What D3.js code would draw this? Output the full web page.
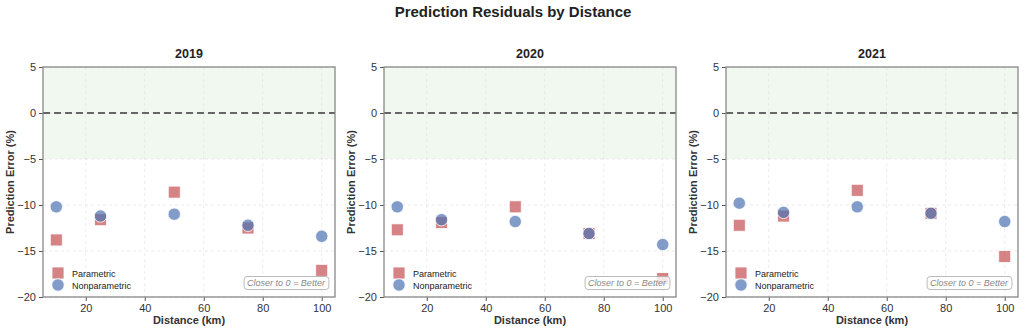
<!DOCTYPE html>
<html>
<head>
<meta charset="utf-8">
<script src="https://cdn.jsdelivr.net/npm/d3@7.9.0/dist/d3.min.js"></script>
<style>
  body { margin: 0; background: #fff; }
  svg { font-family: "Liberation Sans", Arial, sans-serif; }
</style>
</head>
<body>
<svg id="chart" width="1026" height="332"></svg>
<script>
const years = ['2019', '2020', '2021'];
const distances = [10, 25, 50, 75, 100];
const parametric = [
  [-13.8, -11.6, -8.6, -12.5, -17.1],
  [-12.7, -11.9, -10.2, -13.1, -18.0],
  [-12.2, -11.2, -8.4, -10.9, -15.6]
];
const nonparametric = [
  [-10.2, -11.2, -11.0, -12.2, -13.4],
  [-10.2, -11.6, -11.8, -13.1, -14.3],
  [-9.8, -10.8, -10.2, -10.9, -11.8]
];
const yTicks = [5, 0, -5, -10, -15, -20];
const xTicks = [20, 40, 60, 80, 100];

const svg = d3.select('#chart');
const panelLefts = [43, 384, 726];
const panelW = 292;
const plotTop = 67, plotBottom = 297;
const fmt = d => d < 0 ? '\u2212' + Math.abs(d) : String(d);

svg.append('text')
  .attr('x', 513).attr('y', 17)
  .attr('text-anchor', 'middle')
  .attr('font-size', 15).attr('font-weight', 'bold')
  .attr('fill', '#222')
  .text('Prediction Residuals by Distance');

years.forEach((year, i) => {
  let left = panelLefts[i];
  let x = d3.scaleLinear().domain([5.5, 104.5]).range([left, left + panelW]);
  let y = d3.scaleLinear().domain([-20, 5]).range([plotBottom, plotTop]);
  let g = svg.append('g');

  // good zone
  g.append('rect')
    .attr('x', x(5.5)).attr('y', y(5))
    .attr('width', panelW).attr('height', y(-5) - y(5))
    .attr('fill', '#2ca02c').attr('fill-opacity', 0.07);

  // grid
  g.selectAll('.gx').data(xTicks).join('line')
    .attr('x1', d => x(d)).attr('x2', d => x(d))
    .attr('y1', plotTop).attr('y2', plotBottom)
    .attr('stroke', '#ddd').attr('stroke-width', 0.8)
    .attr('stroke-dasharray', '3,3').attr('opacity', 0.7);
  g.selectAll('.gy').data(yTicks).join('line')
    .attr('x1', left).attr('x2', left + panelW)
    .attr('y1', d => y(d)).attr('y2', d => y(d))
    .attr('stroke', '#ddd').attr('stroke-width', 0.8)
    .attr('stroke-dasharray', '3,3').attr('opacity', 0.7);

  // zero line
  g.append('line')
    .attr('x1', left).attr('x2', left + panelW)
    .attr('y1', y(0)).attr('y2', y(0))
    .attr('stroke', '#666').attr('stroke-width', 1.8)
    .attr('stroke-dasharray', '7,4');

  // axes
  let xAxis = g.append('g')
    .attr('transform', `translate(0,${plotBottom})`)
    .call(d3.axisBottom(x).tickValues(xTicks).tickSize(4).tickPadding(3));
  let yAxis = g.append('g')
    .attr('transform', `translate(${left},0)`)
    .call(d3.axisLeft(y).tickValues(yTicks).tickFormat(fmt).tickSize(4).tickPadding(3));
  [xAxis, yAxis].forEach(a => {
    a.select('.domain').remove();
    a.selectAll('.tick line').attr('stroke', '#555');
    a.selectAll('.tick text').attr('font-size', 11).attr('fill', '#333')
      .style('font-family', '"Liberation Sans", Arial, sans-serif');
  });

  // frame
  g.append('rect')
    .attr('x', left).attr('y', plotTop)
    .attr('width', panelW).attr('height', plotBottom - plotTop)
    .attr('fill', 'none').attr('stroke', '#888').attr('stroke-width', 1.3);

  // markers
  let sq = 12;
  g.selectAll('.sq').data(distances).join('rect')
    .attr('x', (d, j) => x(d) - sq / 2)
    .attr('y', (d, j) => y(parametric[i][j]) - sq / 2)
    .attr('width', sq).attr('height', sq)
    .attr('fill', '#c44e52').attr('fill-opacity', 0.7)
    .attr('stroke', '#fff').attr('stroke-width', 0.8);
  g.selectAll('.ci').data(distances).join('circle')
    .attr('cx', d => x(d))
    .attr('cy', (d, j) => y(nonparametric[i][j]))
    .attr('r', 6.2)
    .attr('fill', '#4c72b0').attr('fill-opacity', 0.7)
    .attr('stroke', '#fff').attr('stroke-width', 0.8);

  // titles
  g.append('text')
    .attr('x', left + panelW / 2).attr('y', 58)
    .attr('text-anchor', 'middle')
    .attr('font-size', 12.5).attr('font-weight', 'bold').attr('fill', '#222')
    .text(year);
  g.append('text')
    .attr('x', left + panelW / 2).attr('y', 324)
    .attr('text-anchor', 'middle')
    .attr('font-size', 11).attr('font-weight', 'bold').attr('fill', '#333')
    .text('Distance (km)');
  g.append('text')
    .attr('transform', `translate(${left - 29},${(plotTop + plotBottom) / 2}) rotate(-90)`)
    .attr('text-anchor', 'middle')
    .attr('font-size', 11).attr('font-weight', 'bold').attr('fill', '#333')
    .text('Prediction Error (%)');

  // legend
  let lg = g.append('g').attr('transform', `translate(${left + 15},0)`);
  lg.append('rect')
    .attr('x', -6).attr('y', 273 - 6).attr('width', 12).attr('height', 12)
    .attr('fill', '#c44e52').attr('fill-opacity', 0.7)
    .attr('stroke', '#fff').attr('stroke-width', 0.8);
  lg.append('circle')
    .attr('cx', 0).attr('cy', 285).attr('r', 6.2)
    .attr('fill', '#4c72b0').attr('fill-opacity', 0.7)
    .attr('stroke', '#fff').attr('stroke-width', 0.8);
  lg.append('text').attr('x', 14).attr('y', 276.5)
    .attr('font-size', 9).attr('fill', '#222').text('Parametric');
  lg.append('text').attr('x', 14).attr('y', 288.5)
    .attr('font-size', 9).attr('fill', '#222').text('Nonparametric');

  // note box
  let note = g.append('g');
  let nt = note.append('text')
    .attr('x', left + panelW - 49).attr('y', 286)
    .attr('text-anchor', 'middle')
    .attr('font-size', 9).attr('font-style', 'italic').attr('fill', '#888')
    .text('Closer to 0 = Better');
  let bb = nt.node().getBBox();
  note.insert('rect', 'text')
    .attr('x', bb.x - 3).attr('y', bb.y - 1.5)
    .attr('width', bb.width + 6).attr('height', bb.height + 3)
    .attr('rx', 3)
    .attr('fill', '#fff').attr('fill-opacity', 0.8)
    .attr('stroke', '#aaa').attr('stroke-width', 0.8);
});
</script>
</body>
</html>
